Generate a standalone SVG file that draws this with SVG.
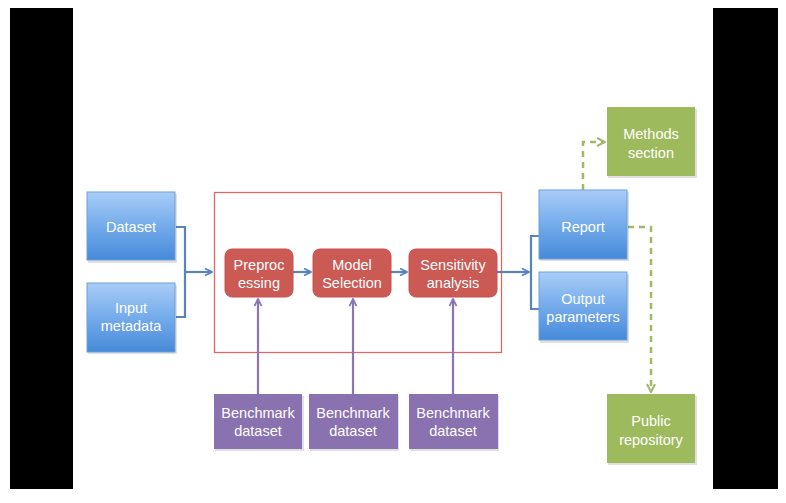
<svg xmlns="http://www.w3.org/2000/svg" width="786" height="503" viewBox="0 0 786 503">
<style>
text{font-family:"Liberation Sans","Open Sans",Arial,sans-serif;font-size:14.5px;fill:#ffffff;text-anchor:middle}
.blue{fill:url(#gb);stroke:#6d9fd9;stroke-width:1}
.red{fill:#cb5954;stroke:#c9514c;stroke-width:1}
.pur{fill:#8a71b0}
.grn{fill:#9dbb5c}
.sh{fill:#000;opacity:0.12}
.cb{fill:none;stroke:#5584bf;stroke-width:2.2}
.cp{fill:none;stroke:#8a74b4;stroke-width:2.2}
.cg{fill:none;stroke:#a2b868;stroke-width:2.5;stroke-dasharray:6 5}
</style>
<defs>
<linearGradient id="gb" x1="0" y1="0" x2="0" y2="1">
<stop offset="0" stop-color="#a9cdf7"/>
<stop offset="0.5" stop-color="#74abeb"/>
<stop offset="1" stop-color="#468ad9"/>
</linearGradient>
<marker id="ab" viewBox="0 0 10 10" refX="9" refY="5" markerWidth="4" markerHeight="4" orient="auto" markerUnits="strokeWidth"><path d="M1,1 L9,5 L1,9" fill="none" stroke="#5584bf" stroke-width="2"/></marker>
<marker id="ap" viewBox="0 0 10 10" refX="9" refY="5" markerWidth="4" markerHeight="4" orient="auto" markerUnits="strokeWidth"><path d="M1,1 L9,5 L1,9" fill="none" stroke="#8a74b4" stroke-width="2"/></marker>
<marker id="ag" viewBox="0 0 10 10" refX="9" refY="5" markerWidth="4" markerHeight="4" orient="auto" markerUnits="strokeWidth"><path d="M1,1 L9,5 L1,9" fill="none" stroke="#a2b868" stroke-width="2"/></marker>
</defs>
<rect x="0" y="0" width="786" height="503" fill="#ffffff"/>
<rect x="10" y="8" width="63" height="481" fill="#000"/>
<rect x="713" y="8" width="65" height="481" fill="#000"/>

<g id="container"><rect x="214.5" y="192.5" width="287" height="160" fill="none" stroke="#d9696a" stroke-width="1.3"/></g>

<g id="connectors">
<path class="cb" d="M176,227 H185 V317 H176"/>
<path class="cb" d="M185,272 H212" marker-end="url(#ab)"/>
<path class="cb" d="M293,272 H311" marker-end="url(#ab)"/>
<path class="cb" d="M391,272 H407" marker-end="url(#ab)"/>
<path class="cb" d="M497,272 H529" marker-end="url(#ab)"/>
<path class="cb" d="M539,236 H531 V309 H539"/>
<path class="cp" d="M258,394 V299" marker-end="url(#ap)"/>
<path class="cp" d="M353,394 V299" marker-end="url(#ap)"/>
<path class="cp" d="M453,394 V299" marker-end="url(#ap)"/>
<path class="cg" d="M583,190 V142 H605" marker-end="url(#ag)"/>
<path class="cg" d="M628,227 H651 V392" marker-end="url(#ag)"/>
</g>

<g id="dataset"><rect class="sh" x="88" y="194" width="89" height="69"/><rect class="blue" x="87" y="192" width="88" height="68"/><text x="131" y="232">Dataset</text></g>
<g id="input-metadata"><rect class="sh" x="88" y="285" width="89" height="69"/><rect class="blue" x="87" y="283" width="88" height="69"/><text x="131" y="313">Input</text><text x="131" y="331">metadata</text></g>

<g id="preprocessing"><rect class="red" x="225" y="249" width="68" height="48" rx="7"/><text x="259" y="270">Preproc</text><text x="259" y="288">essing</text></g>
<g id="model-selection"><rect class="red" x="313" y="249" width="78" height="48" rx="7"/><text x="352" y="270">Model</text><text x="352" y="288">Selection</text></g>
<g id="sensitivity"><rect class="red" x="409" y="249" width="88" height="48" rx="7"/><text x="453" y="270">Sensitivity</text><text x="453" y="288">analysis</text></g>

<g id="bench1"><rect class="sh" x="215" y="396" width="89" height="55"/><rect class="pur" x="214" y="394" width="88" height="55"/><text x="258" y="418">Benchmark</text><text x="258" y="436">dataset</text></g>
<g id="bench2"><rect class="sh" x="310" y="396" width="89" height="55"/><rect class="pur" x="309" y="394" width="89" height="55"/><text x="353" y="418">Benchmark</text><text x="353" y="436">dataset</text></g>
<g id="bench3"><rect class="sh" x="410" y="396" width="89" height="55"/><rect class="pur" x="409" y="394" width="89" height="55"/><text x="453" y="418">Benchmark</text><text x="453" y="436">dataset</text></g>

<g id="report"><rect class="sh" x="540" y="192" width="89" height="69"/><rect class="blue" x="539" y="190" width="88" height="69"/><text x="583" y="232">Report</text></g>
<g id="output-parameters"><rect class="sh" x="540" y="274" width="89" height="69"/><rect class="blue" x="539" y="272" width="88" height="68"/><text x="583" y="304">Output</text><text x="583" y="322">parameters</text></g>

<g id="methods-section"><rect class="sh" x="608" y="109" width="89" height="69"/><rect class="grn" x="607" y="107" width="88" height="69"/><text x="651" y="139">Methods</text><text x="651" y="158">section</text></g>
<g id="public-repository"><rect class="sh" x="608" y="396" width="89" height="69"/><rect class="grn" x="607" y="394" width="88" height="69"/><text x="651" y="426">Public</text><text x="651" y="445">repository</text></g>
</svg>
